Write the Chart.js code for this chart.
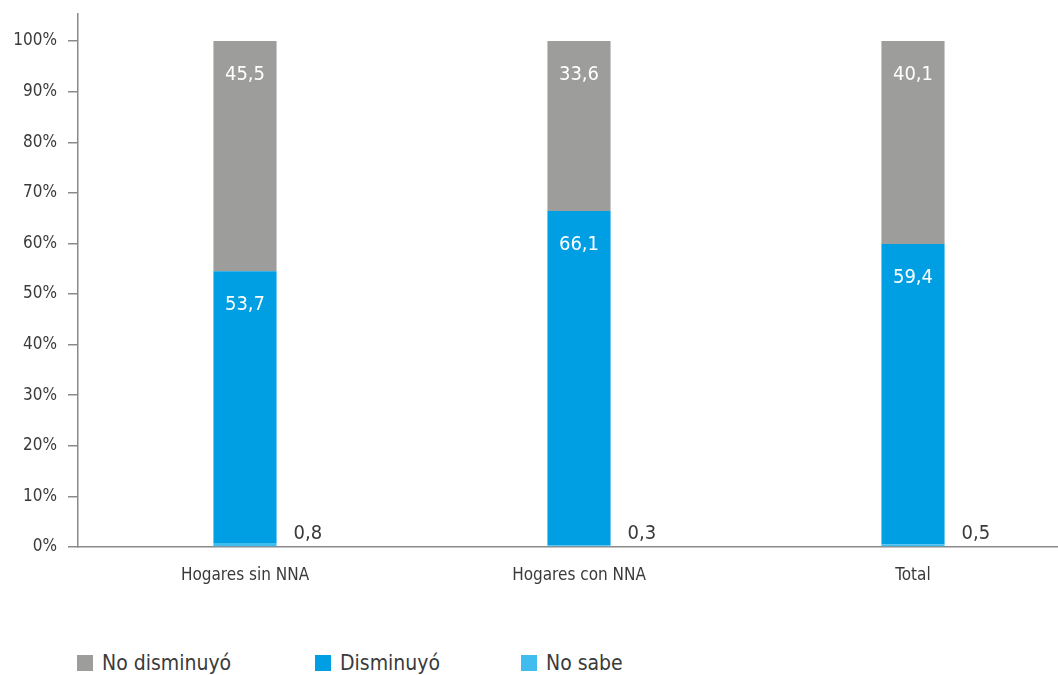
<!DOCTYPE html>
<html>
<head>
<meta charset="utf-8">
<script src="https://cdn.jsdelivr.net/npm/chart.js@4.4.1/dist/chart.umd.min.js"></script>
<style>
  html, body { margin: 0; padding: 0; background: #fff; overflow: hidden; }
  #wrap { position: relative; width: 1058px; height: 675px; overflow: hidden; }
  #box { position: absolute; left: 0; top: 0; width: 1082px; height: 601px; }
  .legend { position: absolute; top: 651px; left: 0; width: 1058px; height: 24px;
            font-family: "Liberation Sans Narrow", "DejaVu Sans Condensed", sans-serif;
            font-size: 21px; color: #3a3a3a; }
  .item { position: absolute; top: 0; display: flex; align-items: center; height: 24px; }
  .sw { width: 16px; height: 16px; margin-right: 9px; }
</style>
</head>
<body>
<div id="wrap">
  <div id="box"><canvas id="c"></canvas></div>
  <div class="legend" id="legend"></div>
</div>
<script>
const FONT = '"Liberation Sans Narrow", "DejaVu Sans Condensed", sans-serif';

// Categories and shares (%) of each response
const categories = ['Hogares sin NNA', 'Hogares con NNA', 'Total'];
const noSabe = [0.8, 0.3, 0.5];
const disminuyo = [53.7, 66.1, 59.4];
const noDisminuyo = [45.5, 33.6, 40.1];
const yTicks = [0, 10, 20, 30, 40, 50, 60, 70, 80, 90, 100];

const COLORS = { noDisminuyo: '#9d9d9c', disminuyo: '#009fe3', noSabe: '#40bdee' };

const fmt = v => v.toFixed(1).replace('.', ',');

// Value labels: inside the upper part of the two large segments, beside the bar for "No sabe"
const valueLabels = {
  id: 'valueLabels',
  afterDatasetsDraw(chart) {
    const ctx = chart.ctx;
    ctx.save();
    ctx.font = '20px ' + FONT;
    chart.data.datasets.forEach((ds, di) => {
      const meta = chart.getDatasetMeta(di);
      meta.data.forEach((bar, i) => {
        const txt = fmt(ds.data[i]);
        if (ds.key === 'noSabe') {
          ctx.fillStyle = '#3a3a3a';
          ctx.textAlign = 'left';
          ctx.textBaseline = 'middle';
          ctx.fillText(txt, bar.x + bar.width / 2 + 17, bar.base - 12);
        } else {
          ctx.fillStyle = '#ffffff';
          ctx.textAlign = 'center';
          ctx.textBaseline = 'middle';
          ctx.fillText(txt, bar.x, bar.y + 34);
        }
      });
    });
    ctx.restore();
  }
};

const chart = new Chart(document.getElementById('c'), {
  type: 'bar',
  data: {
    labels: categories,
    datasets: [
      { key: 'noSabe', label: 'No sabe', data: noSabe, backgroundColor: COLORS.noSabe },
      { key: 'disminuyo', label: 'Disminuyó', data: disminuyo, backgroundColor: COLORS.disminuyo },
      { key: 'noDisminuyo', label: 'No disminuyó', data: noDisminuyo, backgroundColor: COLORS.noDisminuyo }
    ]
  },
  options: {
    responsive: true,
    maintainAspectRatio: false,
    animation: false,
    barPercentage: 1,
    categoryPercentage: 0.189,
    layout: { padding: { top: 14, right: 2, left: 0, bottom: 0 } },
    plugins: { legend: { display: false }, tooltip: { enabled: false } },
    scales: {
      x: {
        stacked: true,
        grid: { display: false, drawTicks: false },
        border: { color: '#8a8a8a', width: 1.5 },
        ticks: { color: '#3a3a3a', font: { family: FONT, size: 17 }, padding: 18, maxRotation: 0 },
        afterFit(s) { s.height = 54; s.paddingLeft = 0; s.paddingRight = 0; }
      },
      y: {
        stacked: true,
        min: 0,
        max: 105.35,
        afterBuildTicks(s) { s.ticks = yTicks.map(v => ({ value: v })); },
        grid: { display: true, drawOnChartArea: false, drawTicks: true, tickLength: 10, color: '#8a8a8a', lineWidth: 1.5 },
        border: { color: '#8a8a8a', width: 1.5 },
        ticks: { color: '#3a3a3a', font: { family: FONT, size: 17 }, padding: 11, callback: v => v + '%' },
        afterFit(s) { s.width = 78; s.paddingTop = 0; s.paddingBottom = 0; }
      }
    }
  },
  plugins: [valueLabels]
});

// Legend, in the order "No disminuyó", "Disminuyó", "No sabe"
const legendItems = [
  { label: 'No disminuyó', color: COLORS.noDisminuyo, left: 77 },
  { label: 'Disminuyó', color: COLORS.disminuyo, left: 315 },
  { label: 'No sabe', color: COLORS.noSabe, left: 521 }
];
const lg = document.getElementById('legend');
legendItems.forEach(it => {
  const d = document.createElement('div');
  d.className = 'item';
  d.style.left = it.left + 'px';
  d.innerHTML = '<span class="sw" style="background:' + it.color + '"></span><span>' + it.label + '</span>';
  lg.appendChild(d);
});
</script>
</body>
</html>
